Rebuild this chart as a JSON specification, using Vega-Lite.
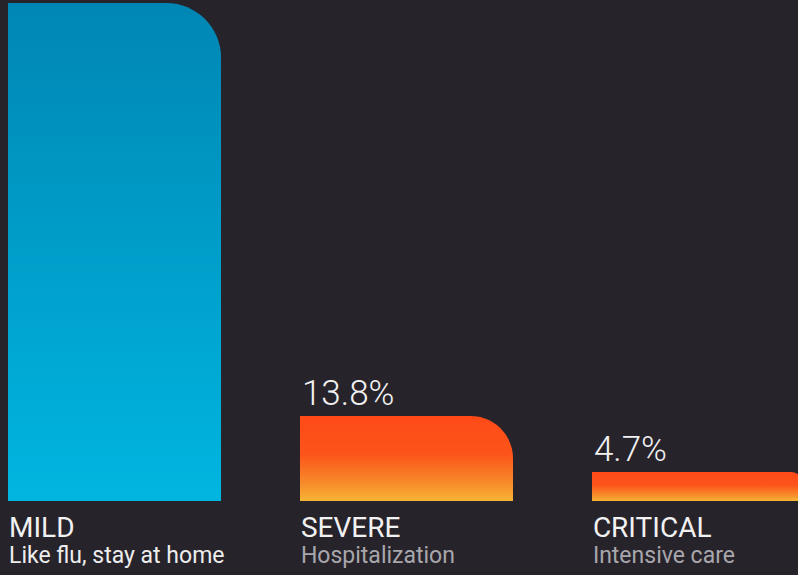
{
  "$schema": "https://vega.github.io/schema/vega-lite/v6.json",
  "width": 813,
  "height": 501,
  "autosize": {"type": "none"},
  "padding": {"left": 0, "top": 0, "right": 0, "bottom": 74},
  "background": "#27232b",
  "config": {"view": {"stroke": null}},
  "data": {
    "values": [
      {"level": "MILD", "share": 80.9, "label": "80.9%", "note": "Like flu, stay at home"},
      {"level": "SEVERE", "share": 13.8, "label": "13.8%", "note": "Hospitalization"},
      {"level": "CRITICAL", "share": 4.7, "label": "4.7%", "note": "Intensive care"}
    ]
  },
  "encoding": {
    "x": {
      "field": "level",
      "type": "nominal",
      "scale": {"domain": ["MILD", "SEVERE", "CRITICAL"], "paddingInner": 0.27, "paddingOuter": 0.0274},
      "axis": null
    }
  },
  "layer": [
    {
      "transform": [{"filter": "datum.level === 'MILD'"}],
      "mark": {
        "type": "bar",
        "cornerRadiusTopRight": 55,
        "color": {
          "gradient": "linear", "x1": 0, "y1": 0, "x2": 0, "y2": 1,
          "stops": [{"offset": 0, "color": "#0086b4"}, {"offset": 1, "color": "#00b6e0"}]
        }
      },
      "encoding": {
        "y": {"field": "share", "type": "quantitative", "scale": {"domain": [0, 81.4], "nice": false, "zero": true}, "axis": null}
      }
    },
    {
      "transform": [{"filter": "datum.level !== 'MILD'"}],
      "mark": {
        "type": "bar",
        "cornerRadiusTopRight": 55,
        "color": {
          "gradient": "linear", "x1": 0, "y1": 0, "x2": 0, "y2": 1,
          "stops": [
            {"offset": 0, "color": "#ff4a17"},
            {"offset": 0.45, "color": "#fc541a"},
            {"offset": 0.8, "color": "#f78d2b"},
            {"offset": 1, "color": "#f6b536"}
          ]
        }
      },
      "encoding": {
        "y": {"field": "share", "type": "quantitative", "scale": {"domain": [0, 81.4], "nice": false, "zero": true}, "axis": null}
      }
    },
    {
      "transform": [{"filter": "datum.level !== 'MILD'"}],
      "mark": {"type": "text", "align": "left", "baseline": "alphabetic", "dx": 2, "dy": -11, "font": "Roboto", "fontWeight": 300, "fontSize": 35, "color": "#f2f2f2"},
      "encoding": {
        "x": {"field": "level", "type": "nominal", "bandPosition": 0},
        "y": {"field": "share", "type": "quantitative", "scale": {"domain": [0, 81.4], "nice": false, "zero": true}},
        "text": {"field": "label"}
      }
    },
    {
      "mark": {"type": "text", "align": "left", "baseline": "alphabetic", "dx": 1, "dy": 36, "font": "Roboto", "fontSize": 28, "color": "#f2f2f2"},
      "encoding": {
        "x": {"field": "level", "type": "nominal", "bandPosition": 0},
        "y": {"datum": 0, "type": "quantitative", "scale": {"domain": [0, 81.4], "nice": false, "zero": true}},
        "text": {"field": "level"}
      }
    },
    {
      "mark": {"type": "text", "align": "left", "baseline": "alphabetic", "dx": 1, "dy": 62, "font": "Roboto", "fontSize": 23},
      "encoding": {
        "x": {"field": "level", "type": "nominal", "bandPosition": 0},
        "y": {"datum": 0, "type": "quantitative", "scale": {"domain": [0, 81.4], "nice": false, "zero": true}},
        "text": {"field": "note"},
        "color": {"condition": {"test": "datum.level === 'MILD'", "value": "#ededed"}, "value": "#a8a7ac"}
      }
    }
  ]
}
